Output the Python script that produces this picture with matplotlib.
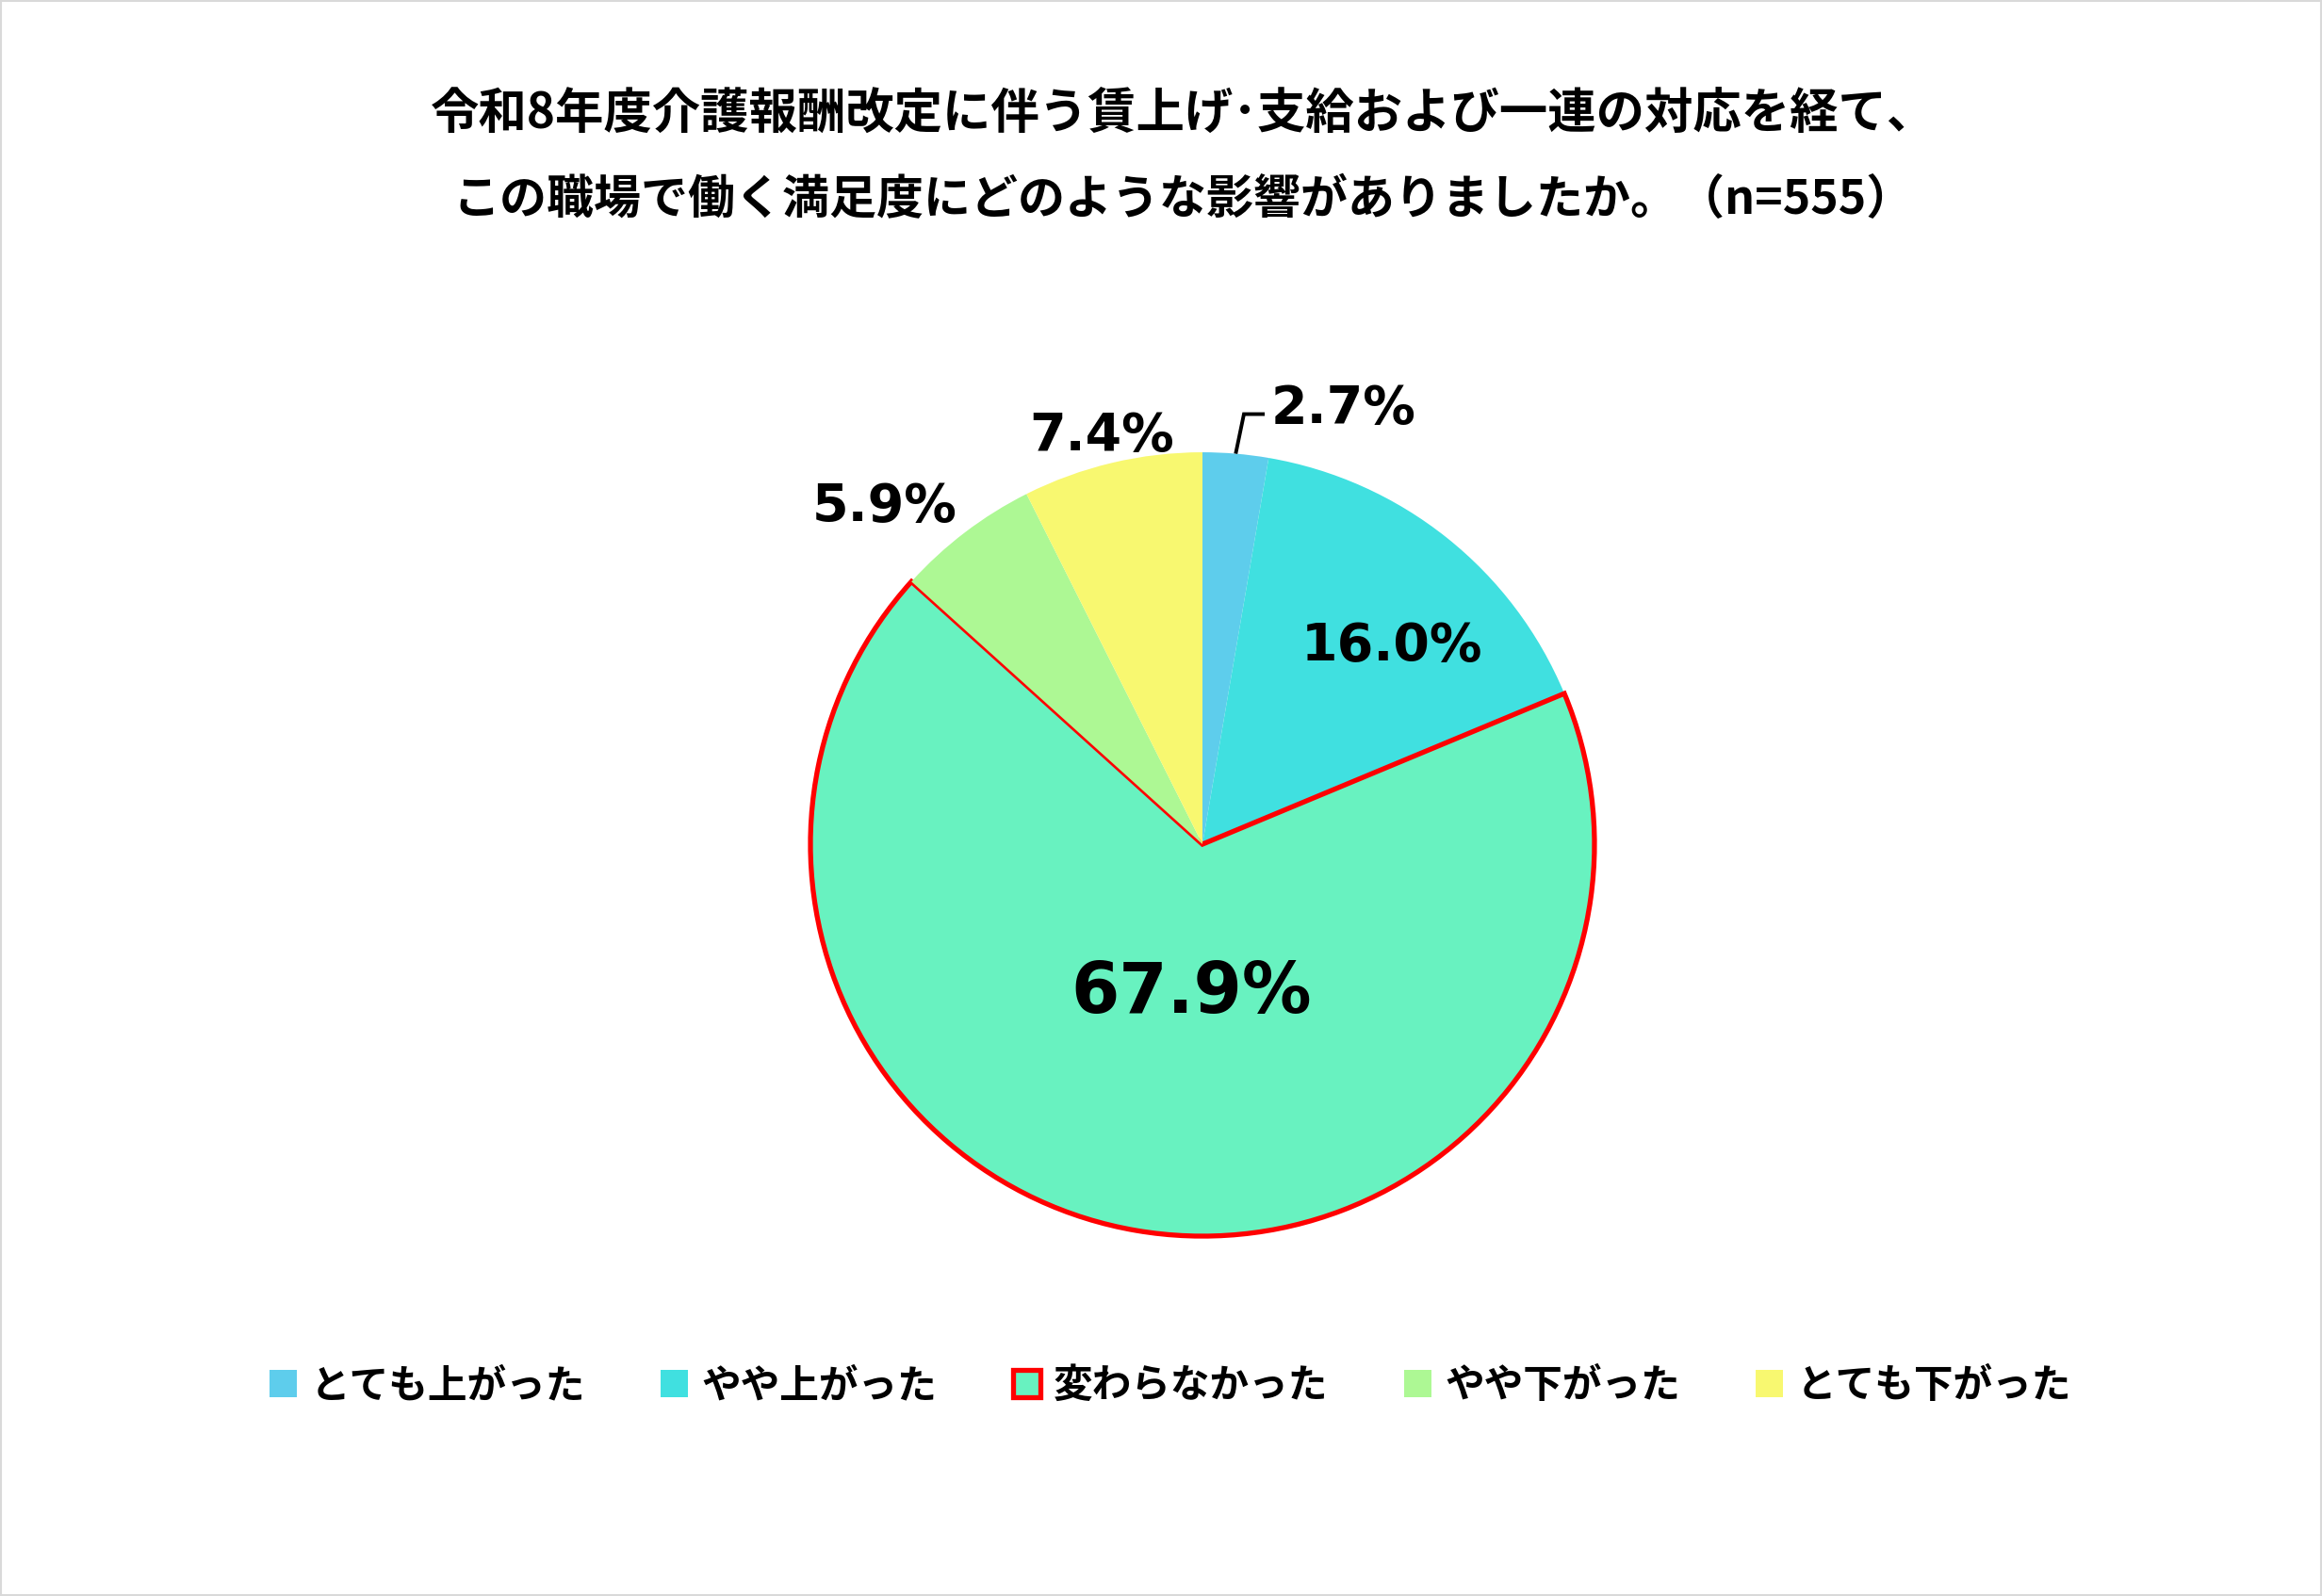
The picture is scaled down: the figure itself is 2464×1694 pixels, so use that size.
import matplotlib
matplotlib.use("Agg")
import matplotlib.pyplot as plt
from matplotlib.font_manager import FontProperties
from matplotlib.patches import Rectangle
import numpy as np

# ---- data ----
categories = ["とても上がった", "やや上がった", "変わらなかった", "やや下がった", "とても下がった"]
values = [2.7, 16.0, 67.9, 5.9, 7.4]
value_labels = ["2.7%", "16.0%", "67.9%", "5.9%", "7.4%"]
title_lines = ["令和8年度介護報酬改定に伴う賃上げ･支給および一連の対応を経て、",
               "この職場で働く満足度にどのような影響がありましたか。（n=555）"]

# ---- style ----
colors = ["#5ECDEC", "#40E0E0", "#68F2C0", "#ADF894", "#F8F870"]
label_pos = [None, (0.483, 0.505), (-0.029, -0.382), (-0.812, 0.861), (-0.257, 1.041)]
label_size = [40, 40, 53, 40, 40]
cjk = ["Noto Sans CJK JP", "DejaVu Sans"]

fig = plt.figure(figsize=(24.64, 16.94), dpi=100)
fig.patch.set_facecolor("white")
fig.patches.append(Rectangle((0.0005, 0.0007), 0.999, 0.9986, transform=fig.transFigure,
                             fill=False, edgecolor="#D9D9D9", linewidth=1.5))

ax = fig.add_axes([0.2646, 0.1027, 0.5065, 0.7367])
wedges, _ = ax.pie(values, colors=colors, startangle=90, counterclock=False, radius=1.0,
                   wedgeprops=dict(linewidth=0, edgecolor="none"))
wedges[2].set_edgecolor("#FF0000")
wedges[2].set_linewidth(3.8)
ax.set_xlim(-1.5, 1.5)
ax.set_ylim(-1.5, 1.5)
ax.set_aspect("equal")
ax.axis("off")

for i, (w, lab) in enumerate(zip(wedges, value_labels)):
    if label_pos[i] is None:
        mid = np.deg2rad((w.theta1 + w.theta2) / 2)
        sx, sy = np.cos(mid), np.sin(mid)
        ex, ey = sx + 0.021, sy + 0.101
        fx, fy = ex + 0.053, ey
        ax.plot([sx, ex, fx], [sy, ey, fy], color="black", lw=2.8, solid_joinstyle="miter",
                solid_capstyle="butt")
        ax.text(fx + 0.017, fy + 0.014, lab, ha="left", va="center", fontsize=label_size[i],
                fontweight="bold", family="DejaVu Sans", color="black")
    else:
        ax.text(label_pos[i][0], label_pos[i][1], lab, ha="center", va="center",
                fontsize=label_size[i], fontweight="bold", family="DejaVu Sans", color="black")

fig.text(0.5094, 1 - 121 / 1694, title_lines[0], ha="center", va="center", fontsize=37,
         fontweight="bold", family=cjk)
fig.text(0.5094, 1 - 212 / 1694, title_lines[1], ha="center", va="center", fontsize=36,
         fontweight="bold", family=cjk)

leg = fig.legend(wedges, categories, loc="center", bbox_to_anchor=(0.504, 1 - 1471 / 1694),
                 ncol=5, frameon=False,
                 prop=FontProperties(family=cjk, weight="bold", size=30),
                 handlelength=0.7, handleheight=0.7, handletextpad=0.34, columnspacing=1.93)

fig.savefig("out.png", dpi=100, facecolor="white")
